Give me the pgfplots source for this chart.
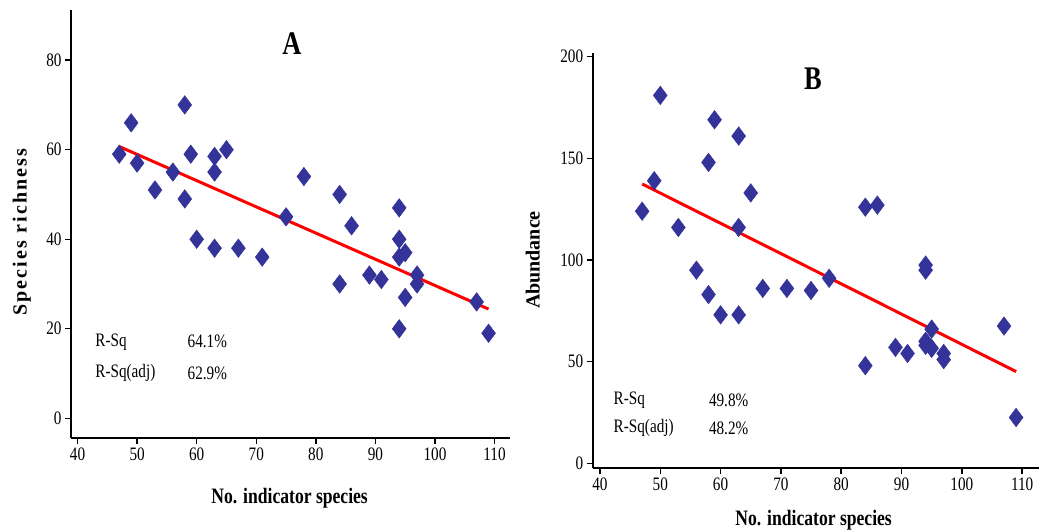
\documentclass[border=0pt]{standalone}
\usepackage{fontspec}
\setmainfont[FakeStretch=0.8]{Liberation Serif}
\newfontfamily\ylabA[LetterSpace=10]{Liberation Serif}
\newfontfamily\ylabB{Liberation Serif}
\usepackage{pgfplots}
\usepackage{pgfplotstable}
\pgfplotsset{compat=1.18}
\definecolor{mk}{RGB}{51,51,153}

% panel A: species richness vs no. indicator species
\pgfplotstableread{
x y
47 59
49 66
50 57
53 51
56 55
58 70
58 49
59 59
60 40
63 58.5
63 55
63 38
65 60
67 38
71 36
75 45
78 54
84 50
84 30
86 43
89 32
91 31
94 47
94 40
94 36
95 37
95 27
94 20
97 32
97 30
107 26
109 19
}\dataA

% panel B: abundance vs no. indicator species
\pgfplotstableread{
x y
47 124
49 139
50 181
53 116
56 95
58 148
58 83
59 169
60 73
63 161
63 116
63 73
65 133
67 86
71 86
75 85
78 91
84 126
84 48
86 127
89 57
91 54
94 97.5
94 95
94 60
94 58
95 66
95 56.5
97 54
97 51
107 67.5
109 22.5
}\dataB

\pgfplotsset{
  panel/.style={
    scale only axis,
    axis x line=bottom, axis y line=left,
    axis line style={line width=2.2pt, -},
    tick align=outside,
    major tick length=6pt,
    tick style={line width=1.4pt, black},
    xtick={40,50,...,110},
    /pgf/number format/assume math mode=true,
    ticklabel style={font=\fontsize{19}{20}\selectfont},
    xlabel={No. indicator species},
    xlabel style={font=\bfseries\fontsize{22}{24}\selectfont, anchor=center},
    clip=false,
  },
  pts/.style={only marks, mark=diamond*, mark size=9.3pt, color=mk},
  fitline/.style={red, line width=3pt, no marks},
}

\begin{document}
\begin{tikzpicture}[x=1pt,y=1pt]
\useasboundingbox (0,0) rectangle (1048,531);

\begin{axis}[panel,
  at={(71pt,93pt)}, anchor=south west,
  width=439pt, height=428pt,
  xmin=38.9, xmax=112.6, ymin=-4.4, ymax=91.2,
  ytick={0,20,...,80},
  xlabel style={at={(axis description cs:0.498,-0.14)}},
  ylabel={Species\hspace{8pt}richness},
  ylabel style={font=\ylabA\bfseries\fontsize{20}{22}\selectfont,
    at={(axis description cs:-0.112,0.481)}, anchor=center},
]
\addplot[pts] table[x=x,y=y] {\dataA};
\addplot[fitline] coordinates {(47,60.7) (109,24.4)};
\node[font=\bfseries\fontsize{33}{36}\selectfont] at (axis cs:76,83.8) {A};
\node[anchor=west, font=\fontsize{19}{20}\selectfont] at (axis cs:42.4,17.1) {R-Sq};
\node[anchor=west, font=\fontsize{19}{20}\selectfont] at (axis cs:57.9,17.1) {64.1\%};
\node[anchor=west, font=\fontsize{19}{20}\selectfont] at (axis cs:42.4,10.1) {R-Sq(adj)};
\node[anchor=west, font=\fontsize{19}{20}\selectfont] at (axis cs:57.9,10.1) {62.9\%};
\end{axis}

\begin{axis}[panel,
  at={(592.7pt,62.7pt)}, anchor=south west,
  width=446.3pt, height=415.6pt,
  xmin=38.8, xmax=112.8, ymin=-2.5, ymax=202,
  ytick={0,50,...,200},
  xlabel style={at={(axis description cs:0.495,-0.124)}},
  ylabel={Abundance},
  ylabel style={font=\ylabB\bfseries\fontsize{20}{22}\selectfont,
    at={(axis description cs:-0.134,0.501)}, anchor=center},
]
\addplot[pts] table[x=x,y=y] {\dataB};
\addplot[fitline] coordinates {(47,137.4) (109,45.1)};
\node[font=\bfseries\fontsize{33}{36}\selectfont] at (axis cs:75.3,189.4) {B};
\node[anchor=west, font=\fontsize{19}{20}\selectfont] at (axis cs:41.7,31.1) {R-Sq};
\node[anchor=west, font=\fontsize{19}{20}\selectfont] at (axis cs:57.5,31.1) {49.8\%};
\node[anchor=west, font=\fontsize{19}{20}\selectfont] at (axis cs:41.7,17.2) {R-Sq(adj)};
\node[anchor=west, font=\fontsize{19}{20}\selectfont] at (axis cs:57.5,17.2) {48.2\%};
\end{axis}
\end{tikzpicture}
\end{document}
